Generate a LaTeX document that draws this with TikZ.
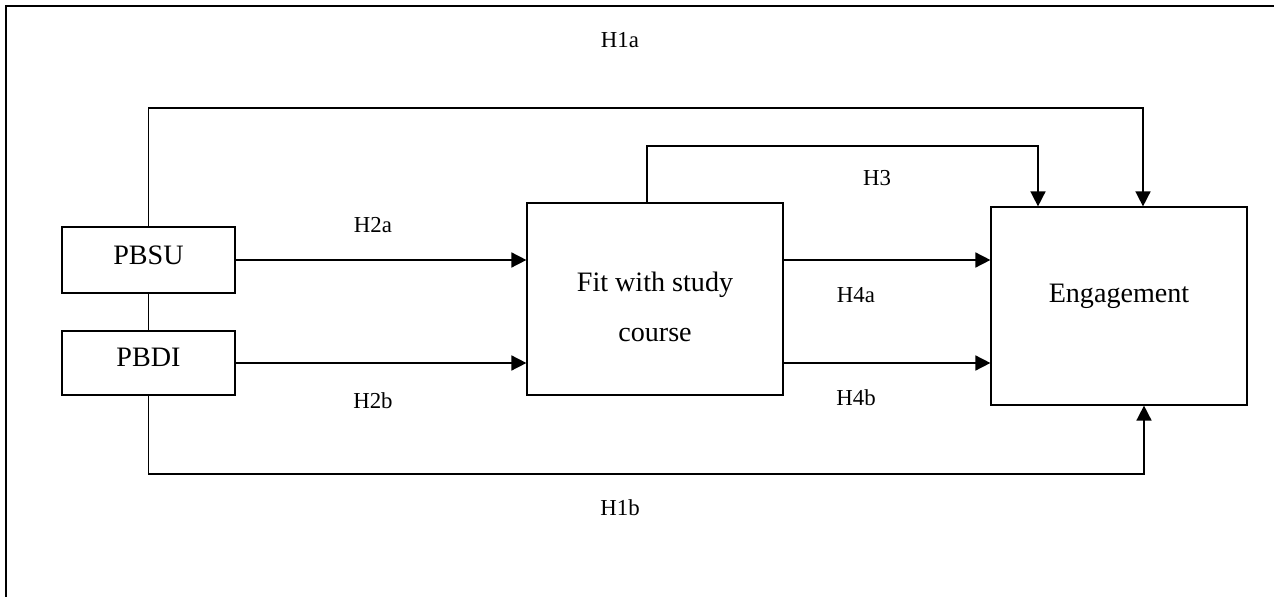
\documentclass[tikz,border=0pt]{standalone}
\usepackage{fontspec}
\setmainfont{Liberation Serif}
\usetikzlibrary{arrows.meta}

\begin{document}
\begin{tikzpicture}[x=0.02cm, y=-0.02cm,
    box/.style={draw, line width=0.7pt, inner sep=0pt, font=\fontsize{16}{28}\selectfont},
    hyp/.style={font=\fontsize{13}{15}\selectfont},
    arr/.style={line width=0.9pt, -{Triangle[length=8.5pt,width=8.5pt]}},
    link/.style={line width=0.9pt}]
    \useasboundingbox (0,0) rectangle (1274,597);
    % frame
    \draw [line width=1.1pt] (1274,6) -- (6,6) -- (6,597);
    % boxes
    \node [box, minimum width=3.46cm, minimum height=1.32cm, text depth=6pt] (pbsu) at (148.5,260) {PBSU};
    \node [box, minimum width=3.46cm, minimum height=1.28cm, text depth=6pt] (pbdi) at (148.5,363) {PBDI};
    \node [box, minimum width=5.12cm, minimum height=3.84cm, align=center, text height=48pt, text depth=0pt] (fit) at (655,299) {Fit with study\\course};
    \node [box, minimum width=5.12cm, minimum height=3.96cm, text depth=15pt] (eng) at (1119,306) {Engagement};
    % hypotheses
    \node [hyp] (h1a) at (620,40) {H1a};
    \node [hyp] (h2a) at (373,225) {H2a};
    \node [hyp] (h3) at (877,178) {H3};
    \node [hyp] (h4a) at (856,295) {H4a};
    \node [hyp] (h2b) at (373,401) {H2b};
    \node [hyp] (h4b) at (856,398) {H4b};
    \node [hyp] (h1b) at (620,508) {H1b};
    % routes
    \coordinate (top) at (1143,108);
    \coordinate (mids) at (647,146);
    \coordinate (mide) at (1038,146);
    \coordinate (bot) at (1144,474);
    \draw [link] (pbsu) -- (pbdi);
    \draw [arr] (pbsu.north) |- (top) -- (top |- eng.north);
    \draw [arr] (mids |- fit.north) -- (mids) -- (mide) -- (mide |- eng.north);
    \draw [arr] (pbdi.south) |- (bot) -- (bot |- eng.south);
    \draw [arr] (pbsu.east) -- (pbsu.east -| fit.west);
    \draw [arr] (pbdi.east) -- (pbdi.east -| fit.west);
    \draw [arr] (fit.east |- pbsu.east) -- (eng.west |- pbsu.east);
    \draw [arr] (fit.east |- pbdi.east) -- (eng.west |- pbdi.east);
\end{tikzpicture}
\end{document}
